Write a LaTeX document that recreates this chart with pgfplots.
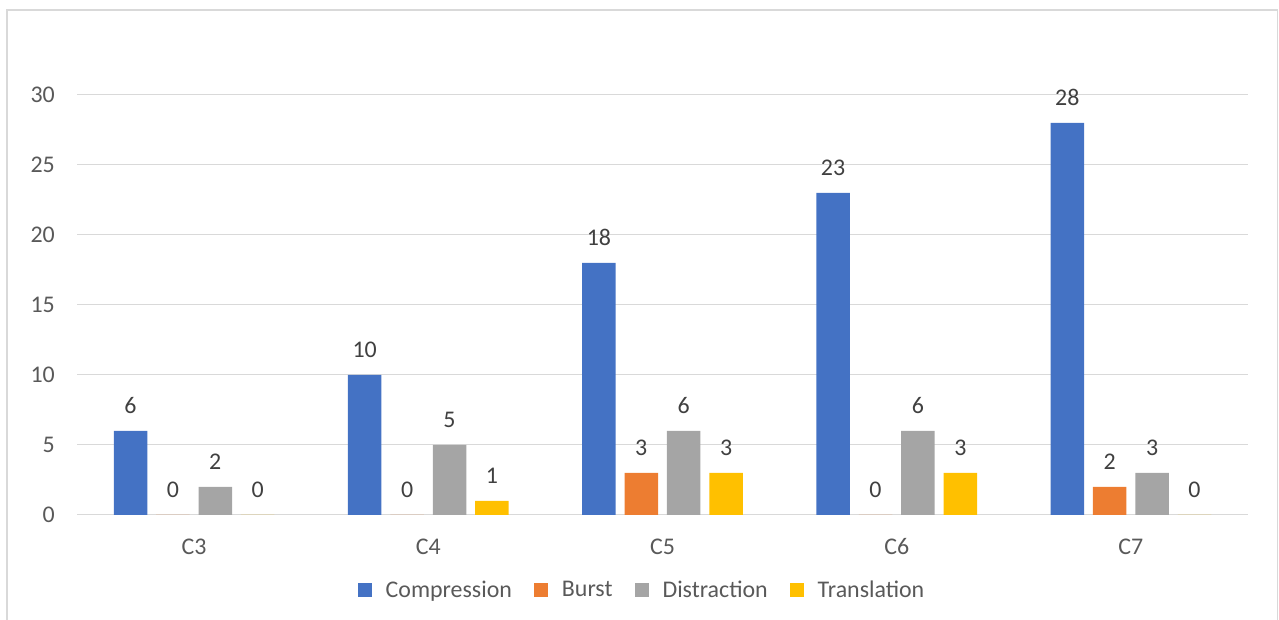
\documentclass[border=0pt]{standalone}
\usepackage{pgfplots}
\pgfplotsset{compat=1.18}
\usepackage{fontspec}
\setmainfont{Carlito}
\definecolor{cblue}{HTML}{4472C4}
\definecolor{corange}{HTML}{ED7D31}
\definecolor{cgray}{HTML}{A5A5A5}
\definecolor{cyellow}{HTML}{FFC000}
\definecolor{gridc}{HTML}{D9D9D9}
\definecolor{tickc}{HTML}{595959}
\definecolor{labc}{HTML}{404040}
\pgfplotsset{sqlegend/.style={legend image code/.code={\fill[##1,draw=none] (0bp,-7bp) rectangle (14bp,7bp);}}}
\begin{document}
\begin{tikzpicture}[x=1bp,y=1bp]
\useasboundingbox (0,0) rectangle (1279,620);
\draw[gridc, line width=1.3bp] (7,-20) rectangle (1277.5,610);
\begin{axis}[
  at={(77bp,105bp)}, anchor=south west,
  scale only axis, width=1171bp, height=420bp,
  xmin=-0.5, xmax=4.5, ymin=0, ymax=30,
  ybar=8.9bp, bar width=33.5bp,
  axis lines=left,
  x axis line style={-, draw=gridc, line width=1bp},
  y axis line style={draw=none},
  major tick length=0pt,
  xtick={0,1,2,3,4},
  xticklabels={C3,C4,C5,C6,C7},
  ytick={0,5,10,15,20,25,30},
  ymajorgrids,
  grid style={gridc, line width=1bp},
  /pgf/number format/assume math mode=true,
  tick label style={font=\fontsize{24}{28}\selectfont, text=tickc},
  xticklabel style={anchor=base, yshift=-40bp},
  yticklabel style={anchor=east, inner sep=0pt, xshift=-22bp},
  nodes near coords,
  every node near coord/.append style={font=\fontsize{24}{28}\selectfont, text=labc, anchor=base, yshift=17bp},
  legend columns=4,
  legend style={at={(0.4825,-0.1786)}, anchor=center, draw=none, fill=none,
    font=\fontsize{24}{28}\selectfont, text=tickc,
    /tikz/every odd column/.append style={column sep=12bp},
    /tikz/every even column/.append style={column sep=20bp}},
]
\addplot[fill=cblue, draw=none, sqlegend] coordinates {(0,6) (1,10) (2,18) (3,23) (4,28)};
\addplot[fill=corange, draw=none, sqlegend] coordinates {(0,0) (1,0) (2,3) (3,0) (4,2)};
\addplot[fill=cgray, draw=none, sqlegend] coordinates {(0,2) (1,5) (2,6) (3,6) (4,3)};
\addplot[fill=cyellow, draw=none, sqlegend] coordinates {(0,0) (1,1) (2,3) (3,3) (4,0)};
\legend{Compression, Burst, Distraction, Translation}
\end{axis}
\end{tikzpicture}
\end{document}
